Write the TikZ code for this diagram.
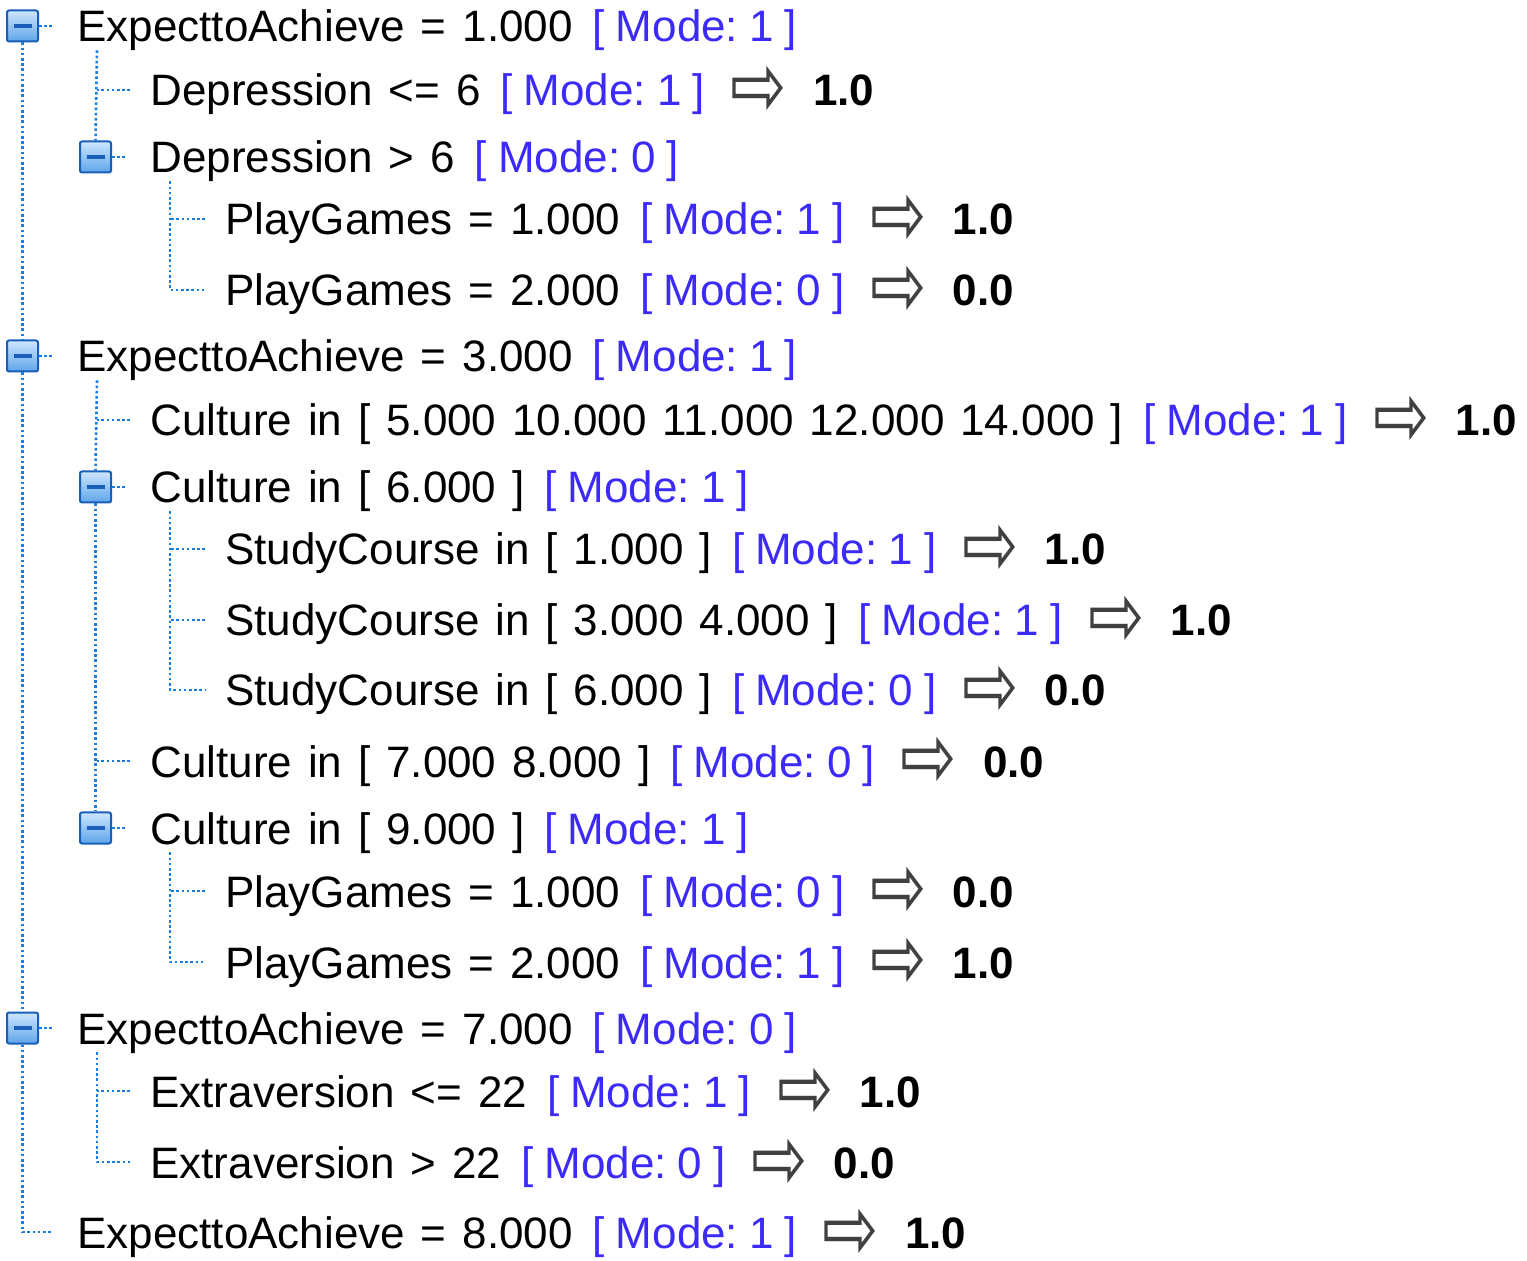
\documentclass[tikz,border=0pt]{standalone}
\usepackage{fontspec}
\usetikzlibrary{positioning}
\setmainfont[WordSpace=1.3]{Liberation Sans}
\newfontfamily\symfont{DejaVu Sans}

\definecolor{modeblue}{RGB}{60,42,250}
\definecolor{treeblue}{RGB}{25,125,225}
\definecolor{boxedge}{RGB}{25,95,185}
\definecolor{boxtop}{RGB}{205,230,252}
\definecolor{boxbot}{RGB}{95,165,235}

% mode tag and result arrow
\newcommand{\md}[1]{\hspace{10pt}\textcolor{modeblue}{[\hspace{5.5pt}Mode:\hspace{5.5pt}#1\hspace{5.5pt}]}}
\newcommand{\res}[1]{\hspace{13pt}\raisebox{-5.5pt}{\scalebox{1.2}[1.6]{\symfont\fontsize{28}{28}\selectfont\color{black!75}⇨}}\hspace{13pt}\textbf{#1}}

\tikzset{
  row/.style={anchor=base west, inner sep=0pt, text height=16pt, text depth=0pt,
    font=\fontsize{22}{26}\selectfont},
  tree/.style={treeblue, line width=1.3pt, dash pattern=on 1.3pt off 1.3pt},
  minusbox/.style={draw=boxedge, line width=1pt, rounded corners=1pt,
    top color=boxtop, bottom color=boxbot, minimum size=15.5pt, inner sep=0pt,
    path picture={\draw[boxedge, line width=1.6pt]
      ([xshift=-4.5pt]path picture bounding box.center) --
      ([xshift=4.5pt]path picture bounding box.center);}},
}

\begin{document}
\begin{tikzpicture}[x=0.5pt, y=-0.5pt]

        \useasboundingbox (0,0) rectangle (1527,1261);

        % Rows of the tree (level 0 at 77, level 1 at 150, level 2 at 225)
        \node[row] (r1)  at (77,42)    {ExpecttoAchieve = 1.000\md{1}};
        \node[row] (r2)  at (150,106)  {Depression <= 6\md{1}\res{1.0}};
        \node[row] (r3)  at (150,173)  {Depression > 6\md{0}};
        \node[row] (r4)  at (225,235)  {PlayGames = 1.000\md{1}\res{1.0}};
        \node[row] (r5)  at (225,306)  {PlayGames = 2.000\md{0}\res{0.0}};
        \node[row] (r6)  at (77,372)   {ExpecttoAchieve = 3.000\md{1}};
        \node[row] (r7)  at (150,436)  {Culture in [ 5.000 10.000 11.000 12.000 14.000 ]\md{1}\res{1.0}};
        \node[row] (r8)  at (150,503)  {Culture in [ 6.000 ]\md{1}};
        \node[row] (r9)  at (225,565)  {StudyCourse in [ 1.000 ]\md{1}\res{1.0}};
        \node[row] (r10) at (225,636)  {StudyCourse in [ 3.000 4.000 ]\md{1}\res{1.0}};
        \node[row] (r11) at (225,706)  {StudyCourse in [ 6.000 ]\md{0}\res{0.0}};
        \node[row] (r12) at (150,777)  {Culture in [ 7.000 8.000 ]\md{0}\res{0.0}};
        \node[row] (r13) at (150,844)  {Culture in [ 9.000 ]\md{1}};
        \node[row] (r14) at (225,907)  {PlayGames = 1.000\md{0}\res{0.0}};
        \node[row] (r15) at (225,978)  {PlayGames = 2.000\md{1}\res{1.0}};
        \node[row] (r16) at (77,1044)  {ExpecttoAchieve = 7.000\md{0}};
        \node[row] (r17) at (150,1107) {Extraversion <= 22\md{1}\res{1.0}};
        \node[row] (r18) at (150,1178) {Extraversion > 22\md{0}\res{0.0}};
        \node[row] (r19) at (77,1248)  {ExpecttoAchieve = 8.000\md{1}\res{1.0}};

        % Collapse boxes
        \node[minusbox, left=19pt of r1]  (i1)  {};
        \node[minusbox, left=19pt of r3]  (i3)  {};
        \node[minusbox, left=19pt of r6]  (i6)  {};
        \node[minusbox, left=19pt of r8]  (i8)  {};
        \node[minusbox, left=19pt of r13] (i13) {};
        \node[minusbox, left=19pt of r16] (i16) {};

        % Level 0 line
        \draw[tree] (i1.south) -- (i6.north);
        \draw[tree] (i6.south) -- (i16.north);
        \draw[tree] (i16.south) |- ([xshift=-12pt]r19.west);

        % Short stubs beside the boxes
        \foreach \n in {1,3,6,8,13,16} {
          \draw[tree] (i\n.east) -- ([xshift=-12pt]r\n.west);
        }

        % Level 1 lines
        \draw[tree] ([xshift=10pt,yshift=-4pt]r1.south west) -- (i3.north);
        \draw[tree] ([xshift=-10pt]r2.west) -- ++(-16.5pt,0);
        \draw[tree] ([xshift=10pt,yshift=-4pt]r6.south west) -- (i8.north);
        \draw[tree] (i8.south) -- (i13.north);
        \draw[tree] ([xshift=-10pt]r7.west) -- ++(-16.5pt,0);
        \draw[tree] ([xshift=-10pt]r12.west) -- ++(-16.5pt,0);
        \draw[tree] ([xshift=10pt,yshift=-4pt]r16.south west) |- ([xshift=-10pt]r18.west);
        \draw[tree] ([xshift=-10pt]r17.west) -- ++(-16.5pt,0);

        % Level 2 lines
        \draw[tree] ([xshift=10pt,yshift=-4pt]r3.south west) |- ([xshift=-10pt]r5.west);
        \draw[tree] ([xshift=-10pt]r4.west) -- ++(-17.5pt,0);
        \draw[tree] ([xshift=10pt,yshift=-4pt]r8.south west) |- ([xshift=-10pt]r11.west);
        \draw[tree] ([xshift=-10pt]r9.west) -- ++(-17.5pt,0);
        \draw[tree] ([xshift=-10pt]r10.west) -- ++(-17.5pt,0);
        \draw[tree] ([xshift=10pt,yshift=-4pt]r13.south west) |- ([xshift=-10pt]r15.west);
        \draw[tree] ([xshift=-10pt]r14.west) -- ++(-17.5pt,0);

      \end{tikzpicture}
\end{document}
